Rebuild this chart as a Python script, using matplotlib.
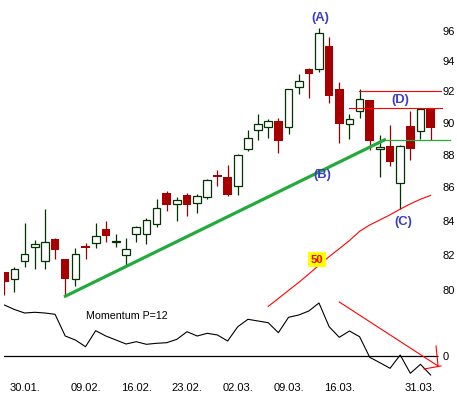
import matplotlib.pyplot as plt
from matplotlib.ticker import NullLocator
import numpy as np

plt.rcParams['font.family'] = ['Liberation Sans', 'DejaVu Sans']

# daily candles (index 0..42)
opens = np.array([81.05, 80.63, 81.66, 82.50, 81.66, 82.93, 81.77, 80.67, 82.52, 82.72,
                  83.50, 82.74, 82.03, 83.22, 83.22, 83.79, 85.64, 84.99, 85.52, 85.05,
                  85.41, 86.78, 86.66, 86.07, 88.35, 89.56, 89.73, 90.08, 89.73, 92.30,
                  93.44, 93.42, 95.00, 92.12, 89.94, 90.75, 91.44, 88.33, 88.52, 86.25,
                  89.78, 89.48, 90.87])
highs = np.array([81.07, 81.30, 83.88, 82.89, 84.70, 82.98, 81.77, 82.39, 82.71, 83.88,
                  83.98, 83.24, 82.98, 83.70, 84.20, 85.30, 85.78, 85.41, 85.64, 85.62,
                  86.50, 87.06, 87.36, 88.02, 89.54, 90.55, 90.23, 90.28, 92.15, 93.14,
                  93.53, 96.16, 95.60, 92.60, 90.56, 92.12, 91.44, 89.22, 89.86, 88.60,
                  90.73, 90.93, 90.93])
lows = np.array([79.74, 79.94, 81.34, 81.20, 81.23, 81.80, 79.73, 80.23, 81.77, 82.40,
                 82.74, 82.49, 81.45, 82.74, 82.64, 83.65, 84.56, 84.00, 84.30, 84.45,
                 85.29, 86.06, 85.46, 85.55, 88.20, 88.91, 89.06, 88.08, 89.30, 91.80,
                 91.57, 93.28, 91.26, 88.74, 89.00, 90.30, 88.30, 86.66, 87.33, 84.71,
                 87.67, 89.00, 88.91])
closes = np.array([80.46, 81.20, 82.08, 82.67, 82.76, 82.33, 80.63, 82.09, 82.44, 83.10,
                   83.14, 82.84, 82.38, 83.62, 84.08, 84.75, 84.96, 85.23, 84.96, 85.50,
                   86.45, 86.62, 85.52, 88.00, 89.04, 89.94, 90.12, 88.83, 92.12, 92.70,
                   93.14, 95.82, 91.70, 89.94, 90.25, 91.50, 88.83, 88.45, 87.53, 88.55,
                   88.38, 90.87, 89.65])

# momentum P=12
momentum = [10.1, 9.2, 8.5, 8.64, 8.5, 8.24, 3.9, 3.1, 1.76, 4.96,
            3.9, 3.1, 2.3, 2.76, 2.24, 2.44, 2.56, 3.24, 4.76, 3.9,
            4.44, 4.1, 2.9, 5.76, 7.24, 6.9, 6.56, 4.56, 7.64, 8.1,
            8.9, 10.5, 5.76, 3.64, 4.9, 3.76, -0.36, -1.44, -2.56, 0.1,
            -3.56, -1.76, -3.9]

# 50 day average (drawn from index 26)
ma_start = 26
ma50 = [79.11, 79.55, 80.0, 80.45, 80.93, 81.43, 81.92, 82.38, 82.85, 83.39,
        83.76, 84.06, 84.36, 84.70, 85.01, 85.29, 85.52]

date_pos = [2, 8, 13, 18, 23, 28, 33, 41]
date_labels = ['30.01.', '09.02.', '16.02.', '23.02.', '02.03.', '09.03.', '16.03.', '31.03.']
price_ticks = [80, 82, 84, 86, 88, 90, 92, 94, 96]

# trend / support lines
trend_x = [5.88, 37.6]
trend_p = [79.64, 88.96]
support_x = [37.6, 43.9]
support_p = 88.9
resist1_x = [34.95, 43.02]
resist1_p = 92.0
resist2_x = [33.96, 43.1]
resist2_p = 90.9

green_dark = '#003300'
red_dark = '#990000'
red_fill = '#a80000'
label_blue = '#3c3cc8'

W, H = 457, 399
fig = plt.figure(figsize=(W / 100, H / 100), dpi=100)
fig.patch.set_facecolor('white')

# price panel
ax = fig.add_axes([4 / W, 0, 437 / W, 1])
ax.set_facecolor('none')
ax.set_yscale('log')
ax.set_xlim(-0.03, 43.02)
ax.set_ylim(74.13, 98.09)

idx = np.arange(len(opens))
up = closes >= opens
lo = np.minimum(opens, closes)
hi = np.maximum(opens, closes)

ax.vlines(idx[up], lows[up], highs[up], color=green_dark, lw=0.9, zorder=2)
ax.vlines(idx[~up], lows[~up], highs[~up], color=red_dark, lw=0.9, zorder=2)
ax.bar(idx[up], hi[up] - lo[up], bottom=lo[up], width=0.76,
       facecolor='white', edgecolor=green_dark, lw=0.9, zorder=3)
ax.bar(idx[~up], hi[~up] - lo[~up], bottom=lo[~up], width=0.84,
       color=red_fill, lw=0, zorder=3)

ax.plot(trend_x, trend_p, color='#22aa3c', lw=2.3, zorder=4, solid_capstyle='butt')
ax.plot(support_x, [support_p] * 2, color='#22aa3c', lw=0.9, zorder=4, clip_on=False)
ax.plot(resist1_x, [resist1_p] * 2, color='#ff0000', lw=0.8, zorder=4, clip_on=False)
ax.plot(resist2_x, [resist2_p] * 2, color='#ff0000', lw=0.8, zorder=4, clip_on=False)
ax.plot(np.arange(ma_start, ma_start + len(ma50)), ma50, color='#ff0000', lw=0.8, zorder=4)

ax.text(30.8, 81.75, '50', color='#ee0000', fontsize=8, fontweight='bold',
        ha='center', va='center', zorder=5,
        bbox=dict(boxstyle='square,pad=0.25', fc='#ffff00', ec='none'))

for s, xx, pp in [('(A)', 31.15, 96.86), ('(B)', 31.35, 86.75),
                  ('(C)', 39.35, 83.94), ('(D)', 39.04, 91.41)]:
    ax.text(xx, pp, s, color=label_blue, fontsize=9.4, fontweight='bold',
            ha='center', va='center', zorder=5)

ax.set_xticks([])
ax.yaxis.tick_right()
ax.set_yticks(price_ticks, [str(t) for t in price_ticks])
ax.yaxis.set_minor_locator(NullLocator())
ax.tick_params(axis='y', length=0, pad=1.2, labelsize=8)
for sp in ax.spines.values():
    sp.set_visible(False)

# momentum panel
axm = fig.add_axes([4 / W, 19 / H, 437 / W, 90 / H])
axm.set_facecolor('none')
axm.set_xlim(-0.03, 43.02)
axm.set_ylim(-4.9, 13.1)
axm.plot(idx, momentum, color='black', lw=0.8)
axm.hlines(0, -0.1, 42.73, color='black', lw=0.9)
axm.plot([33.0, 42.73], [10.7, -2.1], color='#ff0000', lw=0.8, clip_on=False)
axm.plot([41.35, 43.02], [-2.7, -2.1], color='#ff0000', lw=0.8, clip_on=False)
axm.plot([42.53, 42.73], [1.9, -2.1], color='#ff0000', lw=0.8, clip_on=False)
axm.text(12.06, 7.9, 'Momentum P=12', fontsize=7.7, ha='center', va='center')

axm.set_xticks(date_pos, date_labels)
axm.yaxis.tick_right()
axm.set_yticks([0], ['0'])
axm.tick_params(axis='x', length=0, pad=2.2, labelsize=8)
axm.tick_params(axis='y', length=0, pad=1.2, labelsize=8)
for sp in axm.spines.values():
    sp.set_visible(False)

fig.savefig('out.png', dpi=100)
